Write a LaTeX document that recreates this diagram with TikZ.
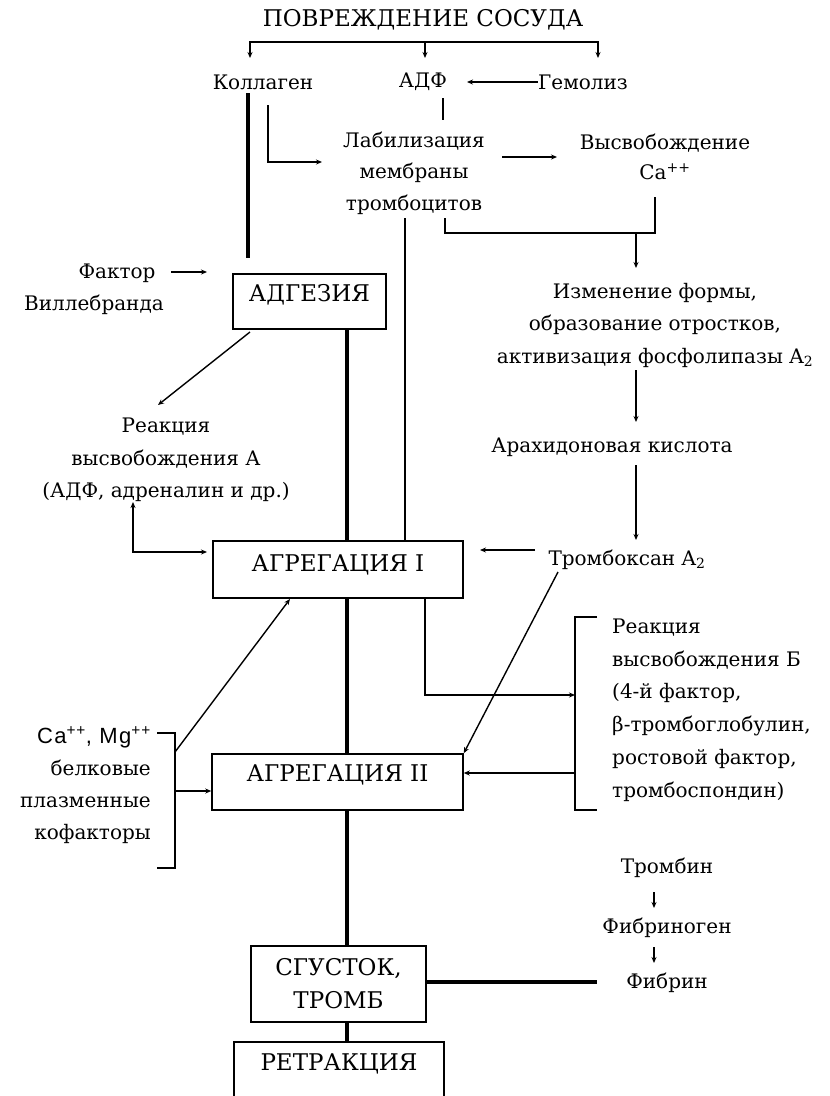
\documentclass[tikz,border=0pt]{standalone}
\usepackage{fontspec}
\setmainfont{DejaVu Serif}
\newfontfamily\arialf{Liberation Sans}[LetterSpace=6]
\usetikzlibrary{arrows.meta,calc}
\begin{document}
\begin{tikzpicture}[x=1pt,y=-1pt,
  txt/.style={inner sep=0pt, font=\fontsize{20}{32}\selectfont, align=center},
  bx/.style={draw, line width=1.5pt, inner sep=0pt, font=\fontsize{23}{33}\selectfont, align=center},
  onel/.style={text height=17pt, text depth=0pt},
  ln/.style={line width=1.4pt},
  thk/.style={line width=4.5pt},
  arr/.style={line width=1.4pt, -{Stealth[length=6pt,width=5pt]}},
  arrb/.style={line width=1.4pt, {Stealth[length=6pt,width=5pt]}-{Stealth[length=6pt,width=5pt]}},
]
\useasboundingbox (0,0) rectangle (830,1096);
\clip (0,0) rectangle (830,1096);

% ---------- text nodes ----------
\node[txt, font=\fontsize{23}{30}\selectfont] (title) at (423,20) {ПОВРЕЖДЕНИЕ СОСУДА};
\node[txt] (koll) at (263,82) {Коллаген};
\node[txt] (adf) at (423,82) {АДФ};
\node[txt] (gem) at (583,82) {Гемолиз};
\node[txt, font=\fontsize{20}{31.5}\selectfont] (lab) at (414,173) {Лабилизация\\мембраны\\тромбоцитов};
\node[txt, font=\fontsize{20}{30}\selectfont] (vys) at (665,157) {Высвобождение\\Ca\textsuperscript{++}};
\node[txt, font=\fontsize{20}{32.5}\selectfont] (izm) at (655,325) {Изменение формы,\\образование отростков,\\активизация фосфолипазы A\textsubscript{2}};
\node[txt] (arah) at (612,447) {Арахидоновая кислота};
\node[txt] (trx) at (627,560) {Тромбоксан A\textsubscript{2}};
\node[txt] (vil) at (94,289) {\hspace*{46pt}Фактор\\Виллебранда};
\node[txt, font=\fontsize{20}{32.5}\selectfont] (reaA) at (166,460) {Реакция\\высвобождения А\\(АДФ, адреналин и др.)};
\node[txt, align=left, anchor=west, font=\fontsize{20}{32.8}\selectfont] (reaB) at (612,710) {Реакция\\высвобождения Б\\(4-й фактор,\\β-тромбоглобулин,\\ростовой фактор,\\тромбоспондин)};
\node[txt, align=right, anchor=east, font=\fontsize{20}{32}\selectfont] (ca) at (151,785) {{\arialf\fontsize{22}{32}\selectfont Ca\textsuperscript{++}, Mg\textsuperscript{++}}\\белковые\\плазменные\\кофакторы};
\node[txt] (trb) at (667,868) {Тромбин};
\node[txt] (fbg) at (667,928) {Фибриноген};
\node[txt] (fbr) at (667,983) {Фибрин};

% ---------- boxes ----------
\node[bx, onel, minimum width=153pt, minimum height=55pt] (adg) at (309.5,301.5) {\raisebox{8.5pt}[\height][\depth]{АДГЕЗИЯ}};
\node[bx, onel, minimum width=250pt, minimum height=57pt] (agr1) at (338,569.5) {\raisebox{6.5pt}[\height][\depth]{АГРЕГАЦИЯ I}};
\node[bx, onel, minimum width=251pt, minimum height=56pt] (agr2) at (337.5,782) {\raisebox{9pt}[\height][\depth]{АГРЕГАЦИЯ II}};
\node[bx, minimum width=175pt, minimum height=76pt] (clot) at (338.5,984) {СГУСТОК,\\ТРОМБ};
\node[bx, onel, minimum width=210pt, minimum height=80pt] (retr) at (339,1082) {\raisebox{20pt}[\height][\depth]{РЕТРАКЦИЯ}};

% ---------- coordinates ----------
\coordinate (br) at (425,42);
\coordinate (k1) at (250,58);
\coordinate (a1) at (425,58);
\coordinate (g1) at (598,58);
\coordinate (adfT) at (467,82);
\coordinate (adfL1) at (443,98);
\coordinate (adfL2) at (443,120);
\coordinate (kollT) at (248,93);
\coordinate (kollB) at (248,258);
\coordinate (kollS) at (268,105);
\coordinate (labIn) at (322,162);
\coordinate (labOut) at (502,157);
\coordinate (vysIn) at (557,157);
\coordinate (labB1) at (445,218);
\coordinate (jR) at (655,233);
\coordinate (vysB) at (655,197);
\coordinate (j) at (636,233);
\coordinate (izmT) at (636,268);
\coordinate (labB2) at (405,218);
\coordinate (izmB) at (636,370);
\coordinate (arahT) at (636,422);
\coordinate (arahB) at (636,465);
\coordinate (trxT) at (636,540);
\coordinate (trxW) at (535,550);
\coordinate (agr1R) at (480,550);
\coordinate (trxD) at (558,572);
\coordinate (vilE) at (171,272);
\coordinate (adgIn) at (207,272);
\coordinate (adgSW) at (250,332);
\coordinate (reaAT) at (158,405);
\coordinate (reaAB) at (133,502);
\coordinate (agr1In) at (207,552);
\coordinate (spine) at (347,0);
\coordinate (c425) at (425,0);
\coordinate (brB) at (575,695);
\coordinate (bT1) at (597,617);
\coordinate (bT2) at (575,617);
\coordinate (bB2) at (575,810);
\coordinate (bB1) at (597,810);
\coordinate (bM) at (575,773);
\coordinate (cT1) at (157,733);
\coordinate (cT2) at (175,733);
\coordinate (cB2) at (175,868);
\coordinate (cB1) at (157,868);
\coordinate (caM) at (175,791);
\coordinate (caU) at (175,752);
\coordinate (agr1b) at (290,599);
\coordinate (fbrW) at (597,982);
\coordinate (t1) at (654,892);
\coordinate (t2) at (654,908);
\coordinate (t3) at (654,947);
\coordinate (t4) at (654,963);

% ---------- connectors ----------
\draw[arr] (br) -| (k1);
\draw[arr] (br) -| (g1);
\draw[arr] (br) -- (a1);
\draw[arr] (gem.west) -- (adfT);
\draw[ln] (adfL1) -- (adfL2);
\draw[thk] (kollT) -- (kollB);
\draw[arr] (kollS) |- (labIn);
\draw[arr] (labOut) -- (vysIn);
\draw[ln] (labB1) |- (jR) -- (vysB);
\draw[arr] (j) -- (izmT);
\draw[ln] (labB2) -- (labB2 |- agr1.north);
\draw[arr] (izmB) -- (arahT);
\draw[arr] (arahB) -- (trxT);
\draw[arr] (trxW) -- (agr1R);
\draw[arr] (trxD) -- (agr2.north east);
\draw[arr] (vilE) -- (adgIn);
\draw[arr] (adgSW) -- (reaAT);
\draw[arrb] (reaAB) |- (agr1In);
\draw[thk] (adg.south -| spine) -- (agr1.north -| spine);
\draw[thk] (agr1.south -| spine) -- (agr2.north -| spine);
\draw[thk] (agr2.south -| spine) -- (clot.north -| spine);
\draw[thk] (clot.south -| spine) -- (retr.north -| spine);
\draw[arr] (agr1.south -| c425) |- (brB);
\draw[ln] (bT1) -- (bT2) -- (bB2) -- (bB1);
\draw[arr] (bM) -- (bM -| agr2.east);
\draw[ln] (cT1) -- (cT2) -- (cB2) -- (cB1);
\draw[arr] (caM) -- (caM -| agr2.west);
\draw[arr] (caU) -- (agr1b);
\draw[thk] (clot.east |- fbrW) -- (fbrW);
\draw[arr] (t1) -- (t2);
\draw[arr] (t3) -- (t4);
\end{tikzpicture}
\end{document}
